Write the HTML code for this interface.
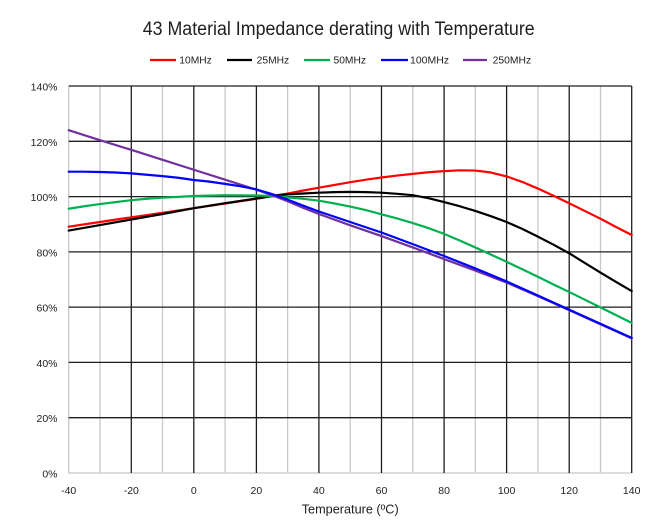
<!DOCTYPE html>
<html><head><meta charset="utf-8"><style>
html,body{margin:0;padding:0;background:#fff;}
svg{display:block;}
text{font-family:"Liberation Sans",Arial,sans-serif;fill:#1e1e1e;}
</style></head><body>
<svg width="659" height="528" viewBox="0 0 659 528" xmlns="http://www.w3.org/2000/svg">
<rect width="659" height="528" fill="#fff"/>
<!-- title -->
<text x="142.7" y="35" font-size="19" textLength="392" lengthAdjust="spacingAndGlyphs" fill="#1a1a1a">43 Material Impedance derating with Temperature</text>
<!-- legend -->
<g stroke-width="2.2">
<line x1="150" y1="60" x2="176" y2="60" stroke="#ff0000"/>
<line x1="227" y1="60" x2="252" y2="60" stroke="#000"/>
<line x1="304" y1="60" x2="330" y2="60" stroke="#00b050"/>
<line x1="381" y1="60" x2="408" y2="60" stroke="#0000ff"/>
<line x1="463" y1="60" x2="487" y2="60" stroke="#7030a0"/>
</g>
<g font-size="10">
<text x="179.3" y="63.5" textLength="32.5" lengthAdjust="spacingAndGlyphs">10MHz</text>
<text x="256.7" y="63.5" textLength="32.5" lengthAdjust="spacingAndGlyphs">25MHz</text>
<text x="333.5" y="63.5" textLength="32.5" lengthAdjust="spacingAndGlyphs">50MHz</text>
<text x="410" y="63.5" textLength="39" lengthAdjust="spacingAndGlyphs">100MHz</text>
<text x="492.7" y="63.5" textLength="38.5" lengthAdjust="spacingAndGlyphs">250MHz</text>
</g>
<!-- minor vertical gridlines -->
<g stroke="#c8c8c8" stroke-width="1.3">
<line x1="68.7" y1="86" x2="68.7" y2="473"/>
<line x1="100.0" y1="86" x2="100.0" y2="473"/>
<line x1="162.5" y1="86" x2="162.5" y2="473"/>
<line x1="225.1" y1="86" x2="225.1" y2="473"/>
<line x1="287.6" y1="86" x2="287.6" y2="473"/>
<line x1="350.2" y1="86" x2="350.2" y2="473"/>
<line x1="412.8" y1="86" x2="412.8" y2="473"/>
<line x1="475.3" y1="86" x2="475.3" y2="473"/>
<line x1="537.9" y1="86" x2="537.9" y2="473"/>
<line x1="600.5" y1="86" x2="600.5" y2="473"/>
<line x1="68.7" y1="473" x2="631.7" y2="473"/>
</g>
<!-- major gridlines -->
<g stroke="#1e1e1e" stroke-width="1.3">
<line x1="131.3" y1="86" x2="131.3" y2="473"/>
<line x1="193.8" y1="86" x2="193.8" y2="473"/>
<line x1="256.4" y1="86" x2="256.4" y2="473"/>
<line x1="318.9" y1="86" x2="318.9" y2="473"/>
<line x1="381.5" y1="86" x2="381.5" y2="473"/>
<line x1="444.1" y1="86" x2="444.1" y2="473"/>
<line x1="506.6" y1="86" x2="506.6" y2="473"/>
<line x1="569.2" y1="86" x2="569.2" y2="473"/>
<line x1="631.7" y1="86" x2="631.7" y2="473"/>
<line x1="68.7" y1="86" x2="631.7" y2="86"/>
<line x1="68.7" y1="141.3" x2="631.7" y2="141.3"/>
<line x1="68.7" y1="196.6" x2="631.7" y2="196.6"/>
<line x1="68.7" y1="251.9" x2="631.7" y2="251.9"/>
<line x1="68.7" y1="307.1" x2="631.7" y2="307.1"/>
<line x1="68.7" y1="362.4" x2="631.7" y2="362.4"/>
<line x1="68.7" y1="417.7" x2="631.7" y2="417.7"/>
</g>
<!-- y labels -->
<g font-size="10.5" text-anchor="end">
<text x="57.5" y="90.5">140%</text>
<text x="57.5" y="145.8">120%</text>
<text x="57.5" y="201.1">100%</text>
<text x="57.5" y="256.4">80%</text>
<text x="57.5" y="311.6">60%</text>
<text x="57.5" y="366.9">40%</text>
<text x="57.5" y="422.2">20%</text>
<text x="57.5" y="477.5">0%</text>
</g>
<!-- x labels -->
<g font-size="10.5" text-anchor="middle">
<text x="68.7" y="494">-40</text>
<text x="131.3" y="494">-20</text>
<text x="193.8" y="494">0</text>
<text x="256.4" y="494">20</text>
<text x="318.9" y="494">40</text>
<text x="381.5" y="494">60</text>
<text x="444.1" y="494">80</text>
<text x="506.6" y="494">100</text>
<text x="569.2" y="494">120</text>
<text x="631.7" y="494">140</text>
</g>
<text x="301.7" y="513.5" font-size="13" textLength="97" lengthAdjust="spacingAndGlyphs">Temperature (ºC)</text>
<!-- series -->
<g transform="matrix(3.1278 0 0 -2.7643 193.81 473)" fill="none" stroke-width="2.2" stroke-linejoin="round" stroke-linecap="round">
<polyline vector-effect="non-scaling-stroke" stroke="#ff0000" points="-40,89.1 -30,90.8 -20,92.5 -10,94.1 0,95.8 10,97.5 20,99.2 25,100.2 30,101.1 35,102.2 40,103.2 45,104.2 50,105.2 55,106.1 60,106.9 65,107.6 70,108.2 75,108.8 80,109.2 85,109.5 90,109.4 95,108.7 100,107.3 105,105.3 110,102.9 115,100.3 120,97.6 125,94.8 130,92 135,89 140,86.1"/>
<polyline vector-effect="non-scaling-stroke" stroke="#000000" points="-40,87.7 -30,89.7 -20,91.7 -10,93.7 0,95.8 10,97.6 20,99.3 25,100.2 30,100.8 35,101.1 40,101.4 45,101.6 50,101.7 55,101.6 60,101.4 65,101.0 70,100.5 75,99.4 80,98.0 85,96.5 90,94.8 95,92.9 100,90.8 105,88.3 110,85.5 115,82.6 120,79.5 125,76.0 130,72.5 135,69.1 140,65.8"/>
<polyline vector-effect="non-scaling-stroke" stroke="#00b050" points="-40,95.6 -35,96.5 -30,97.3 -25,98.0 -20,98.7 -15,99.2 -10,99.6 -5,99.9 0,100.2 10,100.5 20,100.4 25,100.2 30,99.7 35,99.2 40,98.5 45,97.5 50,96.4 55,95.1 60,93.6 65,92.1 70,90.4 75,88.6 80,86.5 85,84.1 90,81.6 95,79.0 100,76.4 105,73.7 110,71 115,68.2 120,65.5 125,62.7 130,59.9 135,57.1 140,54.3"/>
<polyline vector-effect="non-scaling-stroke" stroke="#7030a0" points="-40,124 -30,120.4 -20,116.9 -10,113.3 0,109.7 10,106.1 20,102.5 25,100.5 30,98.3 35,95.9 40,93.7 50,89.6 60,85.7 70,81.6 80,77.4 90,73.2 100,68.9 110,64 120,58.9 130,53.8 140,48.7"/>
<polyline vector-effect="non-scaling-stroke" stroke="#0000ff" points="-40,109 -35,109 -30,108.9 -25,108.7 -20,108.4 -15,107.9 -10,107.4 -5,106.8 0,106.0 5,105.4 10,104.6 15,103.7 20,102.6 25,100.9 30,98.9 35,96.7 40,94.6 50,90.8 60,87.0 70,82.8 80,78.5 90,74.0 100,69.3 110,64.2 120,59.1 130,54.0 140,48.9"/>
</g>
</svg>
</body></html>
